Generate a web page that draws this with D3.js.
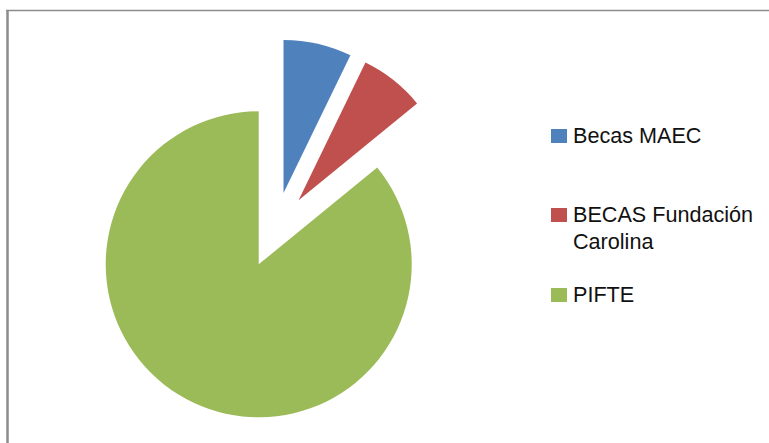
<!DOCTYPE html>
<html>
<head>
<meta charset="utf-8">
<script src="https://cdn.jsdelivr.net/npm/d3@7"></script>
<style>
  html, body { margin: 0; padding: 0; background: #fff; }
  svg { display: block; }
</style>
</head>
<body>
<div id="chart"></div>
<script>
// Data (shares in %)
const categories = ["Becas MAEC", "BECAS Fundación Carolina", "PIFTE"];
const values = [7.2, 6.9, 85.9];
const legendLines = [["Becas MAEC"], ["BECAS Fundación", "Carolina"], ["PIFTE"]];
const colors = ["#4F81BD", "#C0504D", "#9BBB59"];

const width = 769, height = 443;
const cx = 275, cy = 230, radius = 153, explode = 38;

const svg = d3.select("#chart")
  .append("svg")
  .attr("width", width)
  .attr("height", height);

// Frame (only top and left edges are visible)
svg.append("line")
   .attr("x1", 6).attr("y1", 10.5).attr("x2", width).attr("y2", 10.5)
   .attr("stroke", "#8c8c8c").attr("stroke-width", 1.5);
svg.append("line")
   .attr("x1", 7.5).attr("y1", 10).attr("x2", 7.5).attr("y2", height)
   .attr("stroke", "#8c8c8c").attr("stroke-width", 2.5);

const pie = d3.pie().sort(null).value((d) => d);
const arc = d3.arc().innerRadius(0).outerRadius(radius);
const arcs = pie(values);

// Exploded slices
svg.append("g")
   .attr("transform", `translate(${cx},${cy})`)
   .selectAll("path")
   .data(arcs)
   .enter()
   .append("path")
     .attr("d", arc)
     .attr("fill", (d, i) => colors[i])
     .attr("transform", (d) => {
        const a = (d.startAngle + d.endAngle) / 2;
        return `translate(${explode * Math.sin(a)},${-explode * Math.cos(a)})`;
     });

// Legend
const legendX = 551;
const legendTop = [129, 208, 288];
const legend = svg.append("g")
  .style("font-family", "'Liberation Sans', Arial, sans-serif")
  .style("font-size", "21.6px")
  .attr("fill", "#111");

categories.forEach((c, i) => {
  legend.append("rect")
     .attr("x", legendX)
     .attr("y", legendTop[i])
     .attr("width", 16)
     .attr("height", 14)
     .attr("fill", colors[i]);
  const t = legend.append("text")
     .attr("x", legendX + 22)
     .attr("y", legendTop[i] + 14);
  legendLines[i].forEach((line, j) => {
    t.append("tspan")
     .attr("x", legendX + 22)
     .attr("dy", j === 0 ? 0 : 27)
     .text(line);
  });
});
</script>
</body>
</html>
